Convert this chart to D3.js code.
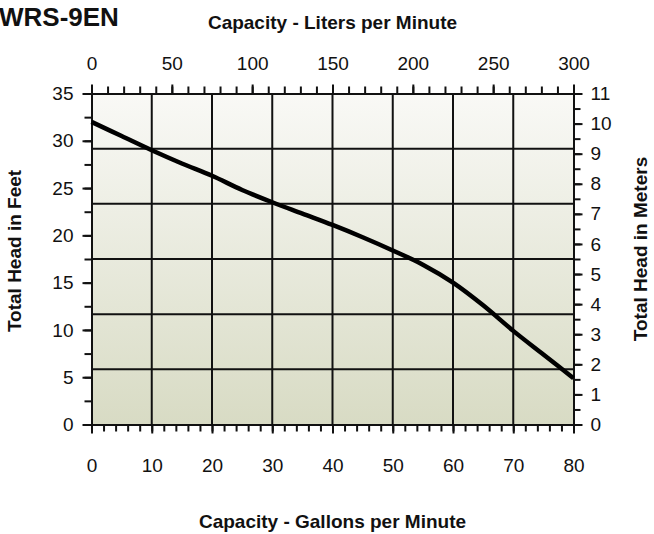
<!DOCTYPE html>
<html><head><meta charset="utf-8">
<script src="https://cdn.jsdelivr.net/npm/d3@7"></script>
<style>
html,body{margin:0;padding:0;background:#fff;}
svg{display:block;}
text{font-family:"Liberation Sans",Arial,Helvetica,sans-serif;fill:#111;}
</style></head>
<body>
<script>
// ---- data ----
const gpm  = [0, 5, 10, 15, 20, 25, 30, 35, 40, 45, 50, 55, 60, 65, 70, 75, 80];
const feet = [32, 30.5, 29.0, 27.6, 26.3, 24.8, 23.5, 22.3, 21.1, 19.8, 18.4, 16.9, 15.0, 12.6, 9.9, 7.4, 4.9];
const gpmTicks = [0, 10, 20, 30, 40, 50, 60, 70, 80];
const lpmTicks = [0, 50, 100, 150, 200, 250, 300];
const feetTicks = [0, 5, 10, 15, 20, 25, 30, 35];
const meterTicks = [0, 1, 2, 3, 4, 5, 6, 7, 8, 9, 10, 11];
const title = "WRS-9EN";
const topTitle = "Capacity - Liters per Minute";
const bottomTitle = "Capacity - Gallons per Minute";
const leftTitle = "Total Head in Feet";
const rightTitle = "Total Head in Meters";

const W = 654, H = 534;
const L = 91.5, R = 573.5, T = 93.5, B = 424.5;

const x = d3.scaleLinear().domain([0, 80]).range([L, R]);
const xL = d3.scaleLinear().domain([0, 300]).range([L, R]);
const y = d3.scaleLinear().domain([0, 35]).range([B, T]);
const yM = d3.scaleLinear().domain([0, 11]).range([B, T]);

const svg = d3.select("body").append("svg").attr("width", W).attr("height", H);

const grad = svg.append("defs").append("linearGradient")
  .attr("id", "bg").attr("x1", 0).attr("y1", 0).attr("x2", 0).attr("y2", 1);
grad.append("stop").attr("offset", "0%").attr("stop-color", "#f9f9f6");
grad.append("stop").attr("offset", "100%").attr("stop-color", "#d8dbc4");

svg.append("rect").attr("x", L).attr("y", T).attr("width", R - L).attr("height", B - T)
  .attr("fill", "url(#bg)");

// grid
const gridRows = d3.range(1, 6).map(i => i * 35 / 6);
svg.append("g").selectAll("line").data(gpmTicks.slice(1, -1)).join("line")
  .attr("x1", d => x(d)).attr("x2", d => x(d)).attr("y1", T).attr("y2", B)
  .attr("stroke", "#111").attr("stroke-width", 2);
svg.append("g").selectAll("line").data(gridRows).join("line")
  .attr("x1", L).attr("x2", R).attr("y1", d => y(d)).attr("y2", d => y(d))
  .attr("stroke", "#111").attr("stroke-width", 2);

function styleAxis(g) {
  g.selectAll("path.domain").attr("stroke", "#111").attr("stroke-width", 2);
  g.selectAll(".tick line").attr("stroke", "#111").attr("stroke-width", 2);
  g.selectAll("text").attr("font-size", 19).attr("fill", "#1a1a1a")
    .style("font-family", '"Liberation Sans",Arial,sans-serif');
}

// minor ticks
const minorG = svg.append("g");
minorG.append("g").attr("transform", `translate(0,${B})`)
  .call(d3.axisBottom(x).tickValues(d3.range(0, 81, 2)).tickSize(7).tickFormat("").tickSizeOuter(0))
  .call(styleAxis);
minorG.append("g").attr("transform", `translate(0,${T})`)
  .call(d3.axisTop(xL).tickValues(d3.range(0, 301, 10)).tickSize(7).tickFormat("").tickSizeOuter(0))
  .call(styleAxis);
minorG.append("g").attr("transform", `translate(${L},0)`)
  .call(d3.axisLeft(y).tickValues(d3.range(0, 35.1, 2.5)).tickSize(7).tickFormat("").tickSizeOuter(0))
  .call(styleAxis);
minorG.append("g").attr("transform", `translate(${R},0)`)
  .call(d3.axisRight(yM).tickValues(d3.range(0, 11.1, 0.5)).tickSize(7).tickFormat("").tickSizeOuter(0))
  .call(styleAxis);

// major axes
svg.append("g").attr("transform", `translate(0,${B})`)
  .call(d3.axisBottom(x).tickValues(gpmTicks).tickSize(9).tickSizeOuter(0).tickPadding(25))
  .call(styleAxis);
svg.append("g").attr("transform", `translate(0,${T})`)
  .call(d3.axisTop(xL).tickValues(lpmTicks).tickSize(9).tickSizeOuter(0).tickPadding(15))
  .call(styleAxis);
svg.append("g").attr("transform", `translate(${L},0)`)
  .call(d3.axisLeft(y).tickValues(feetTicks).tickSize(9).tickSizeOuter(0).tickPadding(9))
  .call(styleAxis);
svg.append("g").attr("transform", `translate(${R},0)`)
  .call(d3.axisRight(yM).tickValues(meterTicks).tickSize(9).tickSizeOuter(0).tickPadding(8))
  .call(styleAxis);

// curve
const pts = gpm.map((g, i) => [g, feet[i]]);
svg.append("path").datum(pts)
  .attr("d", d3.line().x(d => x(d[0])).y(d => y(d[1])).curve(d3.curveMonotoneX))
  .attr("fill", "none").attr("stroke", "#000").attr("stroke-width", 4.5)
  .attr("stroke-linejoin", "round");

// titles
svg.append("text").attr("x", -1).attr("y", 26).attr("font-size", 26).attr("font-weight", "bold")
  .text(title);
svg.append("text").attr("x", (L + R) / 2).attr("y", 29).attr("text-anchor", "middle")
  .attr("font-size", 19).attr("font-weight", "bold").text(topTitle);
svg.append("text").attr("x", (L + R) / 2).attr("y", 528).attr("text-anchor", "middle")
  .attr("font-size", 19).attr("font-weight", "bold").text(bottomTitle);
svg.append("text").attr("transform", `translate(21,${(T + B) / 2 - 8}) rotate(-90)`)
  .attr("text-anchor", "middle").attr("font-size", 19).attr("font-weight", "bold").text(leftTitle);
svg.append("text").attr("transform", `translate(647,${(T + B) / 2 - 10}) rotate(-90)`)
  .attr("text-anchor", "middle").attr("font-size", 19).attr("font-weight", "bold").text(rightTitle);
</script>
</body></html>
